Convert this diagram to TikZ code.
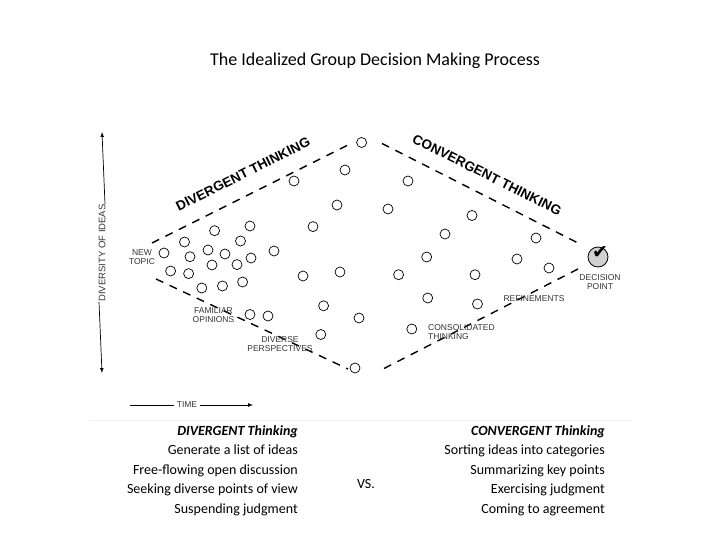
\documentclass[tikz,border=0pt]{standalone}
\usepackage{fontspec}
\setmainfont{Carlito}
\newfontfamily\arialf{Liberation Sans}
\newfontfamily\djv{DejaVu Sans}
\begin{document}
\begin{tikzpicture}[x=1pt,y=-1pt,
  idea/.style={circle,draw,line width=0.7pt,minimum size=10pt,inner sep=0pt},
  bound/.style={draw,line width=1.4pt,dash pattern=on 8pt off 7pt},
  lab/.style={font=\arialf\fontsize{8.5}{9}\selectfont,text=black!80,align=center,inner sep=0pt},
  head/.style={font=\arialf\bfseries\fontsize{13.5}{13.5}\selectfont,inner sep=0pt},
  txt/.style={font=\fontsize{14}{19.5}\selectfont,inner sep=0pt}]
\useasboundingbox (0,0) rectangle (720,540);
\node[font=\fontsize{18}{20}\selectfont] (title) at (375,61) {The Idealized Group Decision Making Process};
\coordinate (L1) at (152,243); \coordinate (T1) at (353,142.5);
\coordinate (L2) at (156,279); \coordinate (B1) at (348,369);
\coordinate (T2) at (382,143.5); \coordinate (R1) at (578,243);
\coordinate (B2) at (384,368.5); \coordinate (R2) at (578,269);
\draw[bound] (L1) -- (T1); \draw[bound] (L2) -- (B1);
\draw[bound] (T2) -- (R1); \draw[bound] (B2) -- (R2);
\node[head,rotate=26.5] (dt) at (243,174) {DIVERGENT THINKING};
\node[head,rotate=-26.5] (ct) at (487,175) {CONVERGENT THINKING};
\foreach \i/\x/\y in {1/361.6/142.5,2/345/170,3/294/181,4/408/181,5/337/205,6/388/209,7/472/215.5,
 8/313/226.6,9/214.6/230.7,10/250/226,11/445/234,12/536/238,13/184.5/242,14/240.5/241,15/208/250,
 16/164/253,17/190/256.7,18/225/254,19/251/258,20/274/251,21/426.7/257,22/517/259,23/549/268,
 24/170.6/271,25/188.6/273.6,26/212/265,27/237/264.6,28/303/276,29/340/272,30/398.6/274.7,
 31/475/274.7,32/201.8/288,33/222.5/286,34/242.6/282,35/323.6/305.8,36/427.7/298,37/477.5/304,
 38/250/314.5,39/268/316,40/359/318,41/320.8/334.5,42/411.8/329,43/355/368}
  \node[idea] (c\i) at (\x,\y) {};
\node[circle,draw,line width=0.8pt,fill=black!18,minimum size=20pt,inner sep=0pt] (dp) at (598,257) {};
\node[font=\djv\bfseries\fontsize{19}{19}\selectfont] (chk) at (600,253) {✔};
\node[lab] (nt) at (142,257) {NEW\\TOPIC};
\node[lab] (fo) at (213.5,315) {FAMILIAR\\OPINIONS};
\node[lab] (dpv) at (280,344) {DIVERSE\\PERSPECTIVES};
\node[lab,align=left,anchor=west] (cth) at (428,332) {CONSOLIDATED\\THINKING};
\node[lab] (ref) at (534,299) {REFINEMENTS};
\node[lab] (dpt) at (600,282) {DECISION\\POINT};
\coordinate (vt) at (102,132); \coordinate (vb) at (102,373);
\node[lab,rotate=90,font=\arialf\fontsize{9.5}{10}\selectfont] (div) at (102,253) {DIVERSITY OF IDEAS};
\draw[-latex,line width=0.7pt] ([xshift=3pt]div.east) -- (vt);
\draw[-latex,line width=0.7pt] ([xshift=-3pt]div.west) -- (vb);
\coordinate (ha) at (130,405); \coordinate (hb) at (253,405);
\node[lab,fill=white,inner xsep=3pt] (time) at (187,405) {TIME};
\draw[line width=0.7pt] (ha) -- (time.west);
\draw[-latex,line width=0.7pt] (time.east) -- (hb);
\draw[black!6,line width=0.8pt] (90,420) -- (632,420);
\node[txt,align=right,anchor=north east] (lt) at (298,425) {{\bfseries\itshape DIVERGENT Thinking}\\Generate a list of ideas\\Free-flowing open discussion\\Seeking diverse points of view\\Suspending judgment};
\node[txt] (vs) at (366,484) {VS.};
\node[txt,align=right,anchor=north east] (rt) at (605,425) {{\bfseries\itshape CONVERGENT Thinking}\\Sorting ideas into categories\\Summarizing key points\\Exercising judgment\\Coming to agreement};
\end{tikzpicture}
\end{document}
